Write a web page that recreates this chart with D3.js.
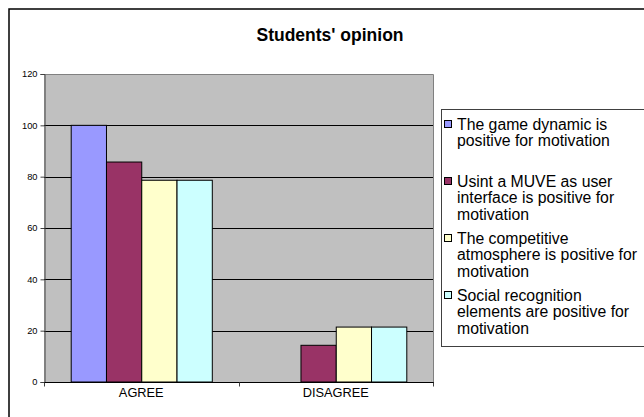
<!DOCTYPE html>
<html><head><meta charset="utf-8">
<script src="https://cdn.jsdelivr.net/npm/d3@7"></script>
<style>
html,body{margin:0;padding:0;background:#fff;overflow:hidden}
text{font-family:"Liberation Sans",Arial,sans-serif;fill:#000}
</style></head><body>
<svg id="chart" width="644" height="417"></svg>
<script>
const categories = ["AGREE", "DISAGREE"];
const seriesNames = [
  "The game dynamic is positive for motivation",
  "Usint a MUVE as user interface is positive for motivation",
  "The competitive atmosphere is positive for motivation",
  "Social recognition elements are positive for motivation"
];
const legendLines = [
  ["The game dynamic is", "positive for motivation"],
  ["Usint a MUVE as user", "interface is positive for", "motivation"],
  ["The competitive", "atmosphere is positive for", "motivation"],
  ["Social recognition", "elements are positive for", "motivation"]
];
const gameDynamic = [100, 0];
const muveInterface = [85.7, 14.3];
const competitive = [78.6, 21.4];
const socialRecognition = [78.6, 21.4];
const seriesValues = [gameDynamic, muveInterface, competitive, socialRecognition];
const seriesColors = ["#9999FF", "#993366", "#FFFFCC", "#CCFFFF"];
const yTicks = [0, 20, 40, 60, 80, 100, 120];
const title = "Students' opinion";

const svg = d3.select("#chart");
const L = 44, R = 433, T = 74, B = 382;

// outer frame
svg.append("rect").attr("x", 9).attr("y", 9).attr("width", 660).attr("height", 430)
  .attr("fill", "#fff").attr("stroke", "#000").attr("stroke-width", 1.5);

// title
svg.append("text").attr("x", 330).attr("y", 40.5).attr("text-anchor", "middle")
  .style("font-size", "17.5px").style("font-weight", "bold").text(title);

const y = d3.scaleLinear().domain([0, 120]).range([B, T]);
const x0 = d3.scaleBand().domain(categories).range([L, R]).padding(0);
const pad = 26.7;
const x1 = d3.scaleBand().domain(d3.range(seriesNames.length)).range([pad, x0.bandwidth() - pad]).padding(0);

// plot background
svg.append("rect").attr("x", L).attr("y", T).attr("width", R - L).attr("height", B - T).attr("fill", "#C0C0C0");

// gridlines
svg.append("g").selectAll("line").data(yTicks.filter(d => d > 0 && d < 120)).join("line")
  .attr("x1", L).attr("x2", R).attr("y1", d => Math.round(y(d)) + 0.5).attr("y2", d => Math.round(y(d)) + 0.5)
  .attr("stroke", "#000").attr("stroke-width", 1);
// top & right border of plot
svg.append("path").attr("d", `M${L},${T + 0.5}H${R + 0.5}V${B}`).attr("fill", "none").attr("stroke", "#808080").attr("stroke-width", 1);

// bars
const groups = svg.append("g").selectAll("g").data(categories).join("g")
  .attr("transform", c => `translate(${x0(c)},0)`);
groups.selectAll("rect").data((c, ci) => seriesValues.map((vals, si) => ({si, v: vals[ci]})).filter(d => d.v > 0))
  .join("rect")
  .attr("x", d => x1(d.si) + 0.5).attr("width", x1.bandwidth())
  .attr("y", d => y(d.v)).attr("height", d => B - y(d.v))
  .attr("fill", d => seriesColors[d.si]).attr("stroke", "#000").attr("stroke-width", 1);

// y axis
const yAxis = d3.axisLeft(y).tickValues(yTicks).tickSize(4).tickPadding(3);
const gy = svg.append("g").attr("transform", `translate(${L + 0.5},0)`).call(yAxis);
gy.select(".domain").attr("stroke", "#404040");
gy.selectAll(".tick line").attr("stroke", "#404040");
gy.selectAll(".tick text").style("font-size", "9.3px").style("font-family", '"Liberation Sans",Arial,sans-serif').attr("fill", "#000");

// x axis
const gx = svg.append("g").attr("transform", `translate(0,${B + 0.5})`);
gx.append("line").attr("x1", L).attr("x2", R + 1).attr("stroke", "#000");
const xTickPos = [L, x0("DISAGREE"), R];
gx.selectAll("line.tk").data(xTickPos).join("line").attr("class", "tk")
  .attr("x1", d => Math.round(d) + 0.5).attr("x2", d => Math.round(d) + 0.5).attr("y1", 0).attr("y2", 4)
  .attr("stroke", "#404040");
gx.selectAll("text").data(categories).join("text")
  .attr("x", c => x0(c) + x0.bandwidth() / 2).attr("y", 14.5).attr("text-anchor", "middle")
  .style("font-size", "12.8px").text(c => c);

// legend
const lg = svg.append("g");
lg.append("rect").attr("x", 441.5).attr("y", 109.5).attr("width", 220).attr("height", 237)
  .attr("fill", "#fff").attr("stroke", "#404040").attr("stroke-width", 1);
const entryStep = 57, lineH = 16.7, firstCenter = 124;
legendLines.forEach((lines, i) => {
  const cy = firstCenter + i * entryStep;
  lg.append("rect").attr("x", 444.5).attr("y", Math.round(cy - 4) + 0.5).attr("width", 7).attr("height", 7)
    .attr("fill", seriesColors[i]).attr("stroke", "#000").attr("stroke-width", 1);
  lines.forEach((t, j) => {
    lg.append("text").attr("x", 457).attr("y", cy + 5.5 + j * lineH)
      .style("font-size", "15.8px").text(t);
  });
});
</script>
</body></html>
